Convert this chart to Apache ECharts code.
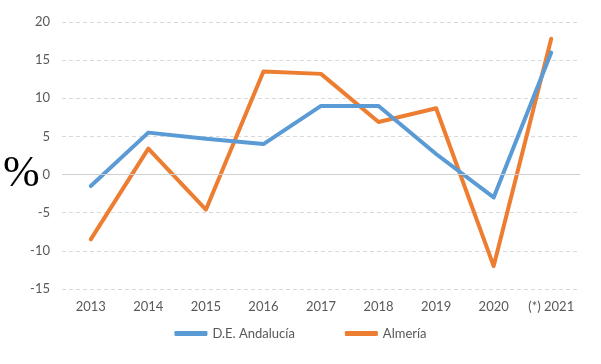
<!DOCTYPE html>
<html><head><meta charset="utf-8">
<script src="https://cdn.jsdelivr.net/npm/echarts@6/dist/echarts.min.js"></script>
<style>html,body{margin:0;padding:0;background:#fff}#c{width:601px;height:364px}</style>
</head><body><div id="c"></div>
<script>
const categories = ['2013','2014','2015','2016','2017','2018','2019','2020','(*) 2021'];
const andalucia = [-1.5, 5.5, 4.7, 4.0, 9.0, 9.0, 2.7, -3.0, 16.0];
const almeria = [-8.5, 3.4, -4.6, 13.5, 13.2, 6.9, 8.7, -12.0, 17.8];
const yTicks = {min: -15, max: 20, interval: 5};

const chart = echarts.init(document.getElementById('c'), null, {renderer: 'canvas'});
const font = 'Lato, "Liberation Sans", sans-serif';
chart.setOption({
  animation: false,
  backgroundColor: '#fff',
  grid: {left: 62, right: 21, top: 22, bottom: 75},
  graphic: [{type: 'text', left: 3, top: 152, style: {text: '%', font: '44px "Liberation Serif", "DejaVu Serif", serif', fill: '#000'}}],
  legend: {
    bottom: 19, left: 'center', itemWidth: 33, itemHeight: 5, itemGap: 50,
    icon: 'roundRect',
    textStyle: {fontFamily: font, fontSize: 13, color: '#595959'},
    data: ['D.E. Andalucía', 'Almería']
  },
  xAxis: {
    type: 'category', data: categories, boundaryGap: true,
    axisLine: {show: false, onZero: false}, axisTick: {show: false},
    axisLabel: {color: '#595959', fontFamily: font, fontSize: 13, margin: 11, interval: 0, hideOverlap: false}
  },
  yAxis: {
    type: 'value', min: yTicks.min, max: yTicks.max, interval: yTicks.interval,
    axisLine: {show: false}, axisTick: {show: false},
    axisLabel: {color: '#595959', fontFamily: font, fontSize: 13, margin: 12},
    splitLine: {lineStyle: {type: [4, 3], color: '#d9d9d9', width: 1}}
  },
  series: [
    {name: 'D.E. Andalucía', type: 'line', data: andalucia, symbol: 'none',
     lineStyle: {color: '#5B9BD5', width: 4, cap: 'round', join: 'round'}, itemStyle: {color: '#5B9BD5'},
     markLine: {silent: true, symbol: 'none', label: {show: false},
       lineStyle: {type: 'solid', color: '#d0d0d0', width: 1}, data: [{yAxis: 0}]}, z: 3},
    {name: 'Almería', type: 'line', data: almeria, symbol: 'none',
     lineStyle: {color: '#ED7D31', width: 4, cap: 'round', join: 'round'}, itemStyle: {color: '#ED7D31'}, z: 2}
  ]
});
</script></body></html>
